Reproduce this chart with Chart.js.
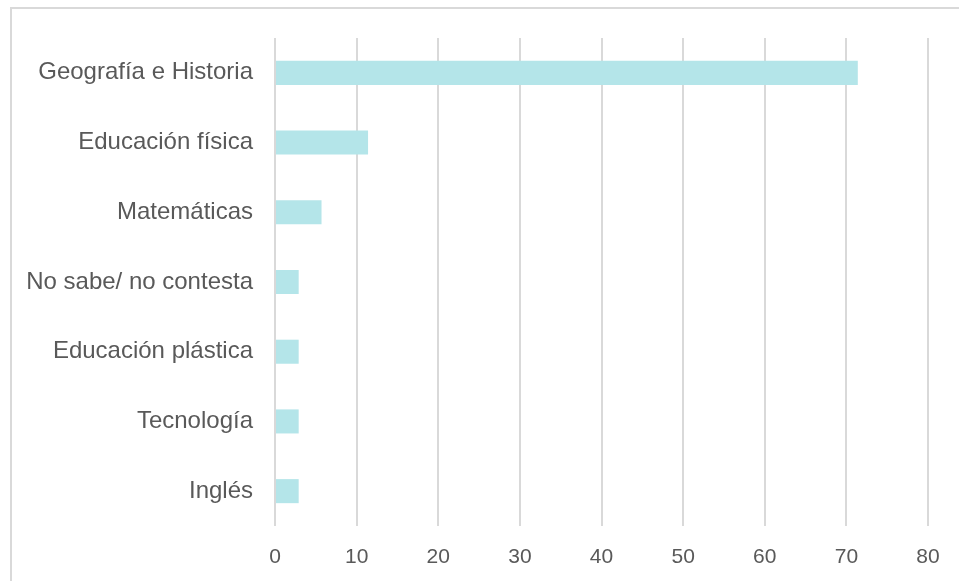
<!DOCTYPE html>
<html>
<head>
<meta charset="utf-8">
<script src="https://cdn.jsdelivr.net/npm/chart.js@4/dist/chart.umd.min.js"></script>
<style>
    html, body { margin: 0; padding: 0; background: #fff; }
    #wrap { position: relative; width: 959px; height: 581px; overflow: hidden; }
    #frame {
        position: absolute; left: 10px; top: 7px; width: 1000px; height: 700px;
        border-top: 2px solid #d9d9d9; border-left: 2px solid #d9d9d9;
    }
    canvas { position: absolute; left: 0; top: 0; }
</style>
</head>
<body>
<div id="wrap">
    <div id="frame"></div>
    <canvas id="chart" width="959" height="581"></canvas>
</div>
<script>
const categories = [
    'Geografía e Historia', 'Educación física', 'Matemáticas',
    'No sabe/ no contesta', 'Educación plástica', 'Tecnología', 'Inglés'
];
const percentages = [71.4, 11.4, 5.7, 2.9, 2.9, 2.9, 2.9];
const xTicks = [0, 10, 20, 30, 40, 50, 60, 70, 80];

const textColor = '#595959';
const gridColor = '#d9d9d9';
const barColor = '#b4e5e9';

new Chart(document.getElementById('chart').getContext('2d'), {
    type: 'bar',
    data: {
        labels: categories,
        datasets: [{
            data: percentages,
            backgroundColor: barColor,
            borderWidth: 0,
            categoryPercentage: 1,
            barPercentage: 0.345
        }]
    },
    options: {
        indexAxis: 'y',
        responsive: false,
        animation: false,
        layout: { padding: { left: 0, top: 38, right: 31, bottom: 0 } },
        plugins: {
            legend: { display: false },
            tooltip: { enabled: false }
        },
        scales: {
            x: {
                min: 0,
                max: 80,
                afterBuildTicks: axis => { axis.ticks = xTicks.map(v => ({ value: v })); },
                afterFit: axis => { axis.height = 55; },
                grid: { color: gridColor, lineWidth: 2, drawTicks: false },
                border: { display: false },
                ticks: {
                    padding: 19,
                    color: textColor,
                    font: { family: 'Liberation Sans, Arial, sans-serif', size: 21 }
                }
            },
            y: {
                afterFit: axis => { axis.width = 275; },
                grid: { display: false, drawTicks: false },
                border: { display: false },
                ticks: {
                    padding: 22,
                    color: textColor,
                    font: { family: 'Liberation Sans, Arial, sans-serif', size: 24 }
                }
            }
        }
    }
});
</script>
</body>
</html>
